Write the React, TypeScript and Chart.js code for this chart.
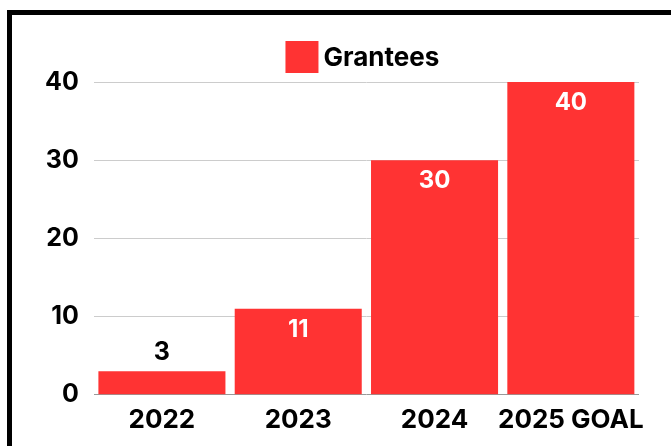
import React, { useEffect, useRef } from "react";
import { Chart, registerables } from "chart.js";

Chart.register(...registerables);

const categories = ["2022", "2023", "2024", "2025 GOAL"];
const grantees = [3, 11, 30, 40];
const seriesLabel = "Grantees";
const yTicks = [0, 10, 20, 30, 40];

const BAR_COLOR = "#ff3333";
const FONT = "Inter, 'Open Sans', sans-serif";

const valueLabels = {
  id: "valueLabels",
  afterDatasetsDraw(chart: any) {
    const { ctx } = chart;
    const meta = chart.getDatasetMeta(0);
    const ds = chart.data.datasets[0];
    ctx.save();
    ctx.textAlign = "center";
    ctx.textBaseline = "middle";
    meta.data.forEach((bar: any, i: number) => {
      const v = ds.data[i];
      const h = bar.base - bar.y;
      if (h > 45) {
        ctx.fillStyle = "#ffffff";
        ctx.font = `bold 24px ${FONT}`;
        ctx.fillText(String(v), bar.x, bar.y + 21);
      } else {
        ctx.fillStyle = "#000000";
        ctx.font = `bold 25px ${FONT}`;
        ctx.fillText(String(v), bar.x, bar.y - 19);
      }
    });
    ctx.restore();
  },
};

const customLegend = {
  id: "customLegend",
  afterDraw(chart: any) {
    const { ctx, chartArea } = chart;
    const ds = chart.data.datasets[0];
    ctx.save();
    ctx.font = `bold 26px ${FONT}`;
    const tw = ctx.measureText(ds.label).width;
    const box = 33;
    const gap = 5;
    const total = box + gap + tw;
    const cx = (chartArea.left + chartArea.right) / 2 - 4;
    const x0 = cx - total / 2;
    const y0 = 41;
    ctx.fillStyle = ds.backgroundColor;
    ctx.fillRect(x0, y0, box, 32);
    ctx.fillStyle = "#000000";
    ctx.textAlign = "left";
    ctx.textBaseline = "middle";
    ctx.fillText(ds.label, x0 + box + gap, y0 + 17);
    ctx.restore();
  },
};

export default function App() {
  const ref = useRef<HTMLCanvasElement | null>(null);

  useEffect(() => {
    if (!ref.current) return;
    const chart = new Chart(ref.current, {
      type: "bar",
      data: {
        labels: categories,
        datasets: [
          {
            label: seriesLabel,
            data: grantees,
            backgroundColor: BAR_COLOR,
            borderWidth: 0,
            barPercentage: 0.932,
            categoryPercentage: 1,
          },
        ],
      },
      options: {
        responsive: false,
        animation: false,
        layout: { padding: { left: 30, right: 32, top: 82, bottom: 0 } },
        plugins: {
          legend: { display: false },
          tooltip: { enabled: false },
        },
        scales: {
          x: {
            grid: { display: false, drawTicks: false },
            border: { display: false },
            ticks: {
              color: "#000",
              padding: 10,
              font: { family: FONT, size: 26, weight: "bold" },
              maxRotation: 0,
              autoSkip: false,
            },
          },
          y: {
            min: yTicks[0],
            max: yTicks[yTicks.length - 1],
            afterBuildTicks: (axis: any) => {
              axis.ticks = yTicks.map((v) => ({ value: v }));
            },
            grid: {
              drawTicks: false,
              color: (c: any) => (c.tick && c.tick.value === 0 ? "#999999" : "#cccccc"),
              lineWidth: 1,
            },
            border: { display: false },
            ticks: {
              color: "#000",
              padding: 15,
              font: { family: FONT, size: 25, weight: "bold" },
            },
          },
        },
      },
      plugins: [valueLabels, customLegend],
    });
    return () => chart.destroy();
  }, []);

  return (
    <div
      style={{
        position: "fixed",
        left: 0,
        top: 0,
        width: 671,
        height: 446,
        overflow: "hidden",
        background: "#ffffff",
      }}
    >
      <div
        style={{
          position: "absolute",
          left: 7,
          top: 10,
          width: 800,
          height: 600,
          border: "5px solid #000",
          boxSizing: "border-box",
        }}
      />
      <canvas
        ref={ref}
        width={671}
        height={446}
        style={{ position: "absolute", left: 0, top: 0, width: 671, height: 446 }}
      />
    </div>
  );
}
